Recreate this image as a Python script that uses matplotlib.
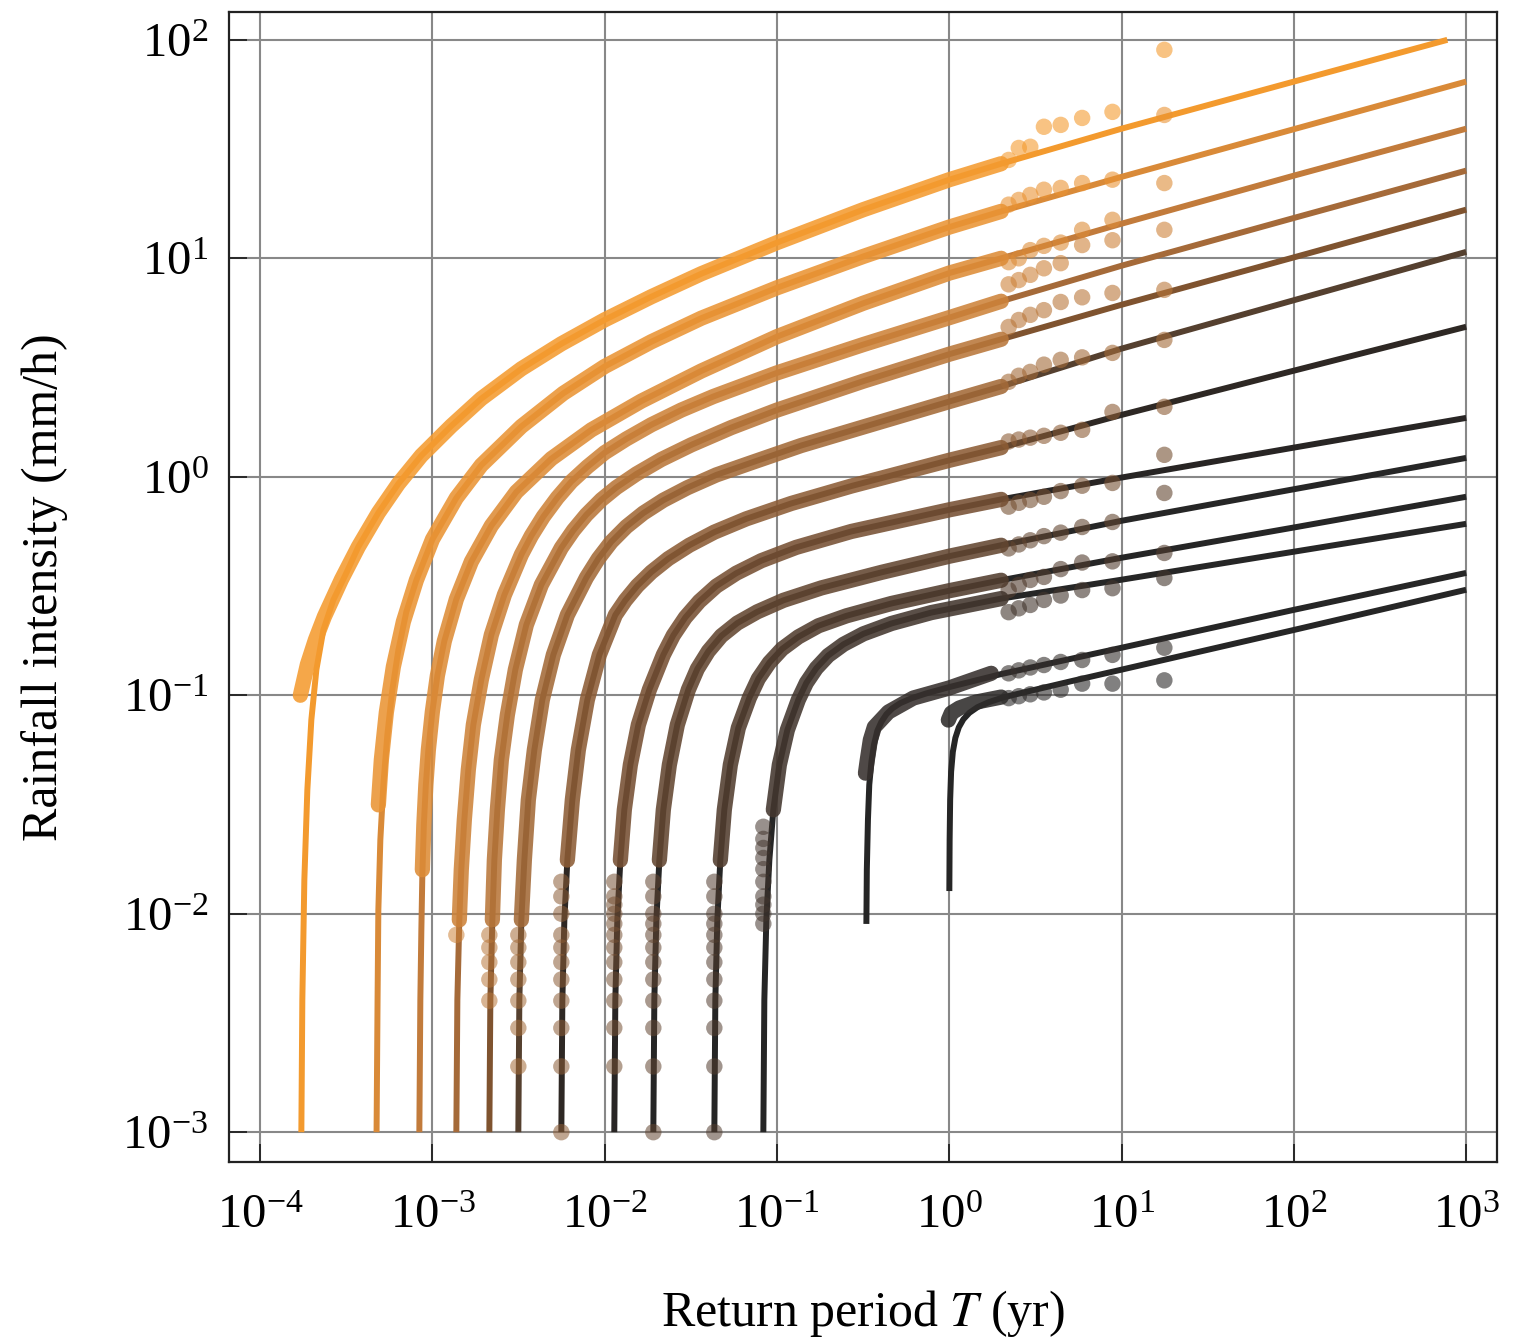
"""Return-period curves of rainfall intensity (log-log), fitted lines with empirical points."""

import matplotlib.pyplot as plt

# ---- data --------------------------------------------------------------------------
# fitted curves, one list per duration (T in yr, I in mm/h)
fit_t = [
    [1.734e-4, 1.757e-4, 1.805e-4, 1.879e-4, 1.982e-4, 2.120e-4, 2.327e-4, 2.659e-4, 3.165e-4, 3.714e-4,
     4.853e-4, 6.341e-4, 8.622e-4, 1.287e-3, 1.922e-3, 3.281e-3, 5.598e-3, 1.0e-2, 1.864e-2, 3.636e-2,
     0.1, 0.317, 1.0, 2.0, 10.0, 100.0, 777.0],
    [4.738e-4, 4.802e-4, 4.853e-4, 4.984e-4, 5.188e-4, 5.473e-4, 5.851e-4, 6.341e-4, 7.055e-4, 8.063e-4,
     1.0e-3, 1.376e-3, 1.922e-3, 3.281e-3, 5.750e-3, 0.01, 1.864e-2, 3.636e-2, 0.1, 0.317, 1.0, 2.0,
     10.0, 100.0, 1000.0],
    [8.393e-4, 8.506e-4, 8.622e-4, 8.737e-4, 8.914e-4, 9.155e-4, 9.467e-4, 9.986e-4, 1.068e-3, 1.172e-3,
     1.376e-3, 1.682e-3, 2.197e-3, 3.068e-3, 4.898e-3, 8.363e-3, 1.631e-2, 3.636e-2, 0.1, 0.317, 1.0,
     2.0, 10.0, 100.0, 1000.0],
    [1.376e-3, 1.395e-3, 1.432e-3, 1.470e-3, 1.531e-3, 1.615e-3, 1.727e-3, 1.922e-3, 2.197e-3, 2.615e-3,
     3.281e-3, 3.750e-3, 4.400e-3, 5.307e-3, 6.399e-3, 7.925e-3, 0.01, 1.335e-2, 1.864e-2, 2.783e-2,
     4.269e-2, 0.1, 0.317, 1.0, 2.0, 10.0, 100.0, 1000.0],
    [2.139e-3, 2.168e-3, 2.227e-3, 2.287e-3, 2.381e-3, 2.511e-3, 2.721e-3, 3.028e-3, 3.507e-3, 4.285e-3,
     5.598e-3, 6.573e-3, 7.820e-3, 9.556e-3, 1.168e-2, 1.526e-2, 2.130e-2, 3.181e-2, 5.429e-2, 0.1,
     0.317, 1.0, 2.0, 10.0, 100.0, 1000.0],
    [3.151e-3, 3.194e-3, 3.281e-3, 3.415e-3, 3.602e-3, 3.903e-3, 4.342e-3, 5.030e-3, 6.067e-3, 7.820e-3,
     9.181e-3, 1.092e-2, 1.335e-2, 1.675e-2, 2.188e-2, 3.016e-2, 4.444e-2, 7.092e-2, 0.138, 0.317, 1.0,
     2.0, 10.0, 100.0, 1000.0],
    [5.598e-3, 5.675e-3, 5.829e-3, 6.067e-3, 6.485e-3, 7.026e-3, 7.925e-3, 9.305e-3, 1.152e-2, 1.317e-2,
     1.546e-2, 1.864e-2, 2.339e-2, 3.097e-2, 4.326e-2, 6.634e-2, 0.121, 0.270, 1.0, 2.0, 10.0, 100.0,
     1000.0],
    [1.136e-2, 1.152e-2, 1.183e-2, 1.232e-2, 1.299e-2, 1.408e-2, 1.567e-2, 1.815e-2, 2.188e-2, 2.500e-2,
     2.936e-2, 3.540e-2, 4.444e-2, 5.804e-2, 8.108e-2, 0.129, 0.270, 1.0, 2.0, 10.0, 100.0, 1000.0],
    [1.914e-2, 1.940e-2, 1.993e-2, 2.075e-2, 2.188e-2, 2.371e-2, 2.638e-2, 3.056e-2, 3.447e-2, 3.993e-2,
     4.750e-2, 5.882e-2, 7.685e-2, 0.109, 0.181, 0.403, 1.0, 2.0, 10.0, 100.0, 1000.0],
    [4.326e-2, 4.384e-2, 4.502e-2, 4.686e-2, 4.943e-2, 5.357e-2, 5.961e-2, 6.906e-2, 7.787e-2, 9.023e-2,
     0.107, 0.133, 0.174, 0.253, 0.461, 1.0, 2.0, 10.0, 100.0, 1000.0],
    [8.327e-2, 8.439e-2, 8.667e-2, 9.023e-2, 9.517e-2, 0.1031, 0.1148, 0.1329, 0.148, 0.169, 0.198,
     0.243, 0.317, 0.461, 0.786, 2.0, 10.0, 100.0, 1000.0],
    [0.330, 0.332, 0.337, 0.343, 0.353, 0.365, 0.382, 0.403, 0.431, 0.467, 0.519, 0.602, 0.736, 1.0,
     2.0, 10.0, 100.0, 1000.0],
    [1.0, 1.004, 1.011, 1.024, 1.048, 1.084, 1.135, 1.206, 1.307, 1.454, 1.684, 2.058, 2.991, 5.107,
     10.0, 100.0, 1000.0],
]
fit_i = [
    [0.001, 0.00403, 0.0143, 0.0369, 0.0772, 0.131, 0.199, 0.273, 0.363, 0.478, 0.684, 0.929, 1.25,
     1.71, 2.28, 3.12, 4.06, 5.23, 6.67, 8.50, 11.8, 16.7, 22.9, 27.1, 39.2, 64.4, 100.0],
    [0.001, 0.00403, 0.0104, 0.0218, 0.0389, 0.0659, 0.106, 0.161, 0.241, 0.336, 0.517, 0.800, 1.13,
     1.70, 2.41, 3.20, 4.15, 5.32, 7.33, 10.2, 13.9, 16.4, 23.6, 39.0, 64.4],
    [0.001, 0.00403, 0.00843, 0.0151, 0.0255, 0.0389, 0.0562, 0.0840, 0.123, 0.177, 0.275, 0.409,
     0.597, 0.852, 1.21, 1.64, 2.22, 3.05, 4.38, 6.23, 8.56, 10.0, 14.4, 23.9, 39.2],
    [0.001, 0.00403, 0.00937, 0.0159, 0.0269, 0.0456, 0.0732, 0.118, 0.189, 0.288, 0.440, 0.537,
     0.657, 0.802, 0.951, 1.11, 1.29, 1.49, 1.73, 2.02, 2.33, 2.99, 4.03, 5.35, 6.36, 9.25, 15.3, 25.2],
    [0.001, 0.00403, 0.00937, 0.0176, 0.0299, 0.0506, 0.0813, 0.131, 0.210, 0.320, 0.473, 0.568,
     0.670, 0.785, 0.893, 1.03, 1.20, 1.40, 1.68, 2.02, 2.74, 3.64, 4.26, 6.13, 10.1, 16.7],
    [0.001, 0.00403, 0.00937, 0.0176, 0.0332, 0.0562, 0.0953, 0.153, 0.233, 0.345, 0.422, 0.504,
     0.591, 0.682, 0.781, 0.891, 1.02, 1.16, 1.39, 1.69, 2.21, 2.59, 3.86, 6.43, 10.7],
    [0.001, 0.00403, 0.00937, 0.0176, 0.0332, 0.0562, 0.0953, 0.153, 0.233, 0.272, 0.317, 0.366,
     0.422, 0.486, 0.558, 0.642, 0.755, 0.907, 1.19, 1.36, 1.92, 3.06, 4.86],
    [0.001, 0.00403, 0.00937, 0.0176, 0.0299, 0.0480, 0.0732, 0.106, 0.153, 0.188, 0.227, 0.269,
     0.316, 0.362, 0.413, 0.475, 0.562, 0.706, 0.788, 0.992, 1.36, 1.86],
    [0.001, 0.00403, 0.00937, 0.0176, 0.0299, 0.0480, 0.0732, 0.106, 0.132, 0.159, 0.187, 0.214,
     0.241, 0.272, 0.310, 0.365, 0.433, 0.486, 0.629, 0.877, 1.22],
    [0.001, 0.00403, 0.00937, 0.0176, 0.0299, 0.0480, 0.0709, 0.0973, 0.119, 0.141, 0.163, 0.185,
     0.208, 0.231, 0.263, 0.301, 0.336, 0.426, 0.586, 0.810],
    [0.001, 0.00403, 0.00937, 0.0176, 0.0299, 0.0480, 0.0694, 0.0953, 0.114, 0.133, 0.152, 0.171,
     0.191, 0.213, 0.239, 0.277, 0.338, 0.454, 0.609],
    [0.00898, 0.0159, 0.0269, 0.0389, 0.0496, 0.0593, 0.0687, 0.0755, 0.0818, 0.0871, 0.0920, 0.0968,
     0.102, 0.109, 0.125, 0.165, 0.246, 0.363],
    [0.0127, 0.0218, 0.0332, 0.0446, 0.0551, 0.0638, 0.0713, 0.0776, 0.0831, 0.0881, 0.0928, 0.0978,
     0.105, 0.116, 0.131, 0.199, 0.304],
]

# dense part of the empirical points
band_t = [
    [1.711e-4, 1.879e-4, 2.091e-4, 2.359e-4, 2.960e-4, 3.714e-4, 4.853e-4, 6.341e-4, 8.622e-4, 1.287e-3,
     1.922e-3, 3.281e-3, 5.598e-3, 1.0e-2, 1.864e-2, 3.636e-2, 0.1, 0.317, 1.0, 2.0],
    [4.853e-4, 5.051e-4, 5.400e-4, 5.930e-4, 6.778e-4, 8.063e-4, 1.0e-3, 1.376e-3, 1.922e-3, 3.281e-3,
     5.750e-3, 0.01, 1.864e-2, 3.636e-2, 0.1, 0.317, 1.0, 2.0],
    [8.737e-4, 8.914e-4, 9.155e-4, 9.467e-4, 9.986e-4, 1.068e-3, 1.172e-3, 1.376e-3, 1.682e-3, 2.197e-3,
     3.068e-3, 4.898e-3, 8.363e-3, 1.631e-2, 3.636e-2, 0.1, 0.317, 1.0, 2.0],
    [1.432e-3, 1.470e-3, 1.531e-3, 1.615e-3, 1.727e-3, 1.922e-3, 2.197e-3, 2.615e-3, 3.281e-3, 3.750e-3,
     4.400e-3, 5.307e-3, 6.399e-3, 7.925e-3, 0.01, 1.335e-2, 1.864e-2, 2.783e-2, 4.269e-2, 0.1, 0.317,
     1.0, 2.0],
    [2.227e-3, 2.287e-3, 2.381e-3, 2.511e-3, 2.721e-3, 3.028e-3, 3.507e-3, 4.285e-3, 5.598e-3, 6.573e-3,
     7.820e-3, 9.556e-3, 1.168e-2, 1.526e-2, 2.130e-2, 3.181e-2, 5.429e-2, 0.1, 0.317, 1.0, 2.0],
    [3.281e-3, 3.415e-3, 3.602e-3, 3.903e-3, 4.342e-3, 5.030e-3, 6.067e-3, 7.820e-3, 9.181e-3, 1.092e-2,
     1.335e-2, 1.675e-2, 2.188e-2, 3.016e-2, 4.444e-2, 7.092e-2, 0.138, 0.317, 1.0, 2.0],
    [6.067e-3, 6.485e-3, 7.026e-3, 7.925e-3, 9.305e-3, 1.152e-2, 1.317e-2, 1.546e-2, 1.864e-2, 2.339e-2,
     3.097e-2, 4.326e-2, 6.634e-2, 0.121, 0.270, 1.0, 2.0],
    [1.232e-2, 1.299e-2, 1.408e-2, 1.567e-2, 1.815e-2, 2.188e-2, 2.500e-2, 2.936e-2, 3.540e-2, 4.444e-2,
     5.804e-2, 8.108e-2, 0.129, 0.270, 1.0, 2.0],
    [2.075e-2, 2.188e-2, 2.371e-2, 2.638e-2, 3.056e-2, 3.447e-2, 3.993e-2, 4.750e-2, 5.882e-2, 7.685e-2,
     0.109, 0.181, 0.403, 1.0, 2.0],
    [4.686e-2, 4.943e-2, 5.357e-2, 5.961e-2, 6.906e-2, 7.787e-2, 9.023e-2, 0.107, 0.133, 0.174, 0.253,
     0.461, 1.0, 2.0],
    [9.517e-2, 0.1031, 0.1148, 0.1329, 0.148, 0.169, 0.198, 0.243, 0.317, 0.461, 0.786, 2.0],
    [0.326, 0.334, 0.348, 0.367, 0.443, 0.618, 1.0, 1.75],
    [0.987, 1.027, 1.143, 1.434, 2.0],
]
band_i = [
    [0.100, 0.138, 0.179, 0.229, 0.338, 0.478, 0.684, 0.929, 1.25, 1.71, 2.28, 3.12, 4.06, 5.23, 6.67,
     8.50, 11.8, 16.7, 22.9, 27.1],
    [0.0315, 0.0506, 0.0835, 0.135, 0.217, 0.336, 0.517, 0.800, 1.13, 1.70, 2.41, 3.20, 4.15, 5.32,
     7.33, 10.2, 13.9, 16.4],
    [0.0159, 0.0255, 0.0389, 0.0562, 0.0840, 0.123, 0.177, 0.275, 0.409, 0.597, 0.852, 1.21, 1.64,
     2.22, 3.05, 4.38, 6.23, 8.56, 10.0],
    [0.00937, 0.0159, 0.0269, 0.0456, 0.0732, 0.118, 0.189, 0.288, 0.440, 0.537, 0.657, 0.802, 0.951,
     1.11, 1.29, 1.49, 1.73, 2.02, 2.33, 2.99, 4.03, 5.35, 6.36],
    [0.00937, 0.0176, 0.0299, 0.0506, 0.0813, 0.131, 0.210, 0.320, 0.473, 0.568, 0.670, 0.785, 0.893,
     1.03, 1.20, 1.40, 1.68, 2.02, 2.74, 3.64, 4.26],
    [0.00937, 0.0176, 0.0332, 0.0562, 0.0953, 0.153, 0.233, 0.345, 0.422, 0.504, 0.591, 0.682, 0.781,
     0.891, 1.02, 1.16, 1.39, 1.69, 2.21, 2.59],
    [0.0176, 0.0332, 0.0562, 0.0953, 0.153, 0.233, 0.272, 0.317, 0.366, 0.422, 0.486, 0.558, 0.642,
     0.755, 0.907, 1.19, 1.36],
    [0.0176, 0.0299, 0.0480, 0.0732, 0.106, 0.153, 0.188, 0.227, 0.269, 0.316, 0.362, 0.413, 0.475,
     0.562, 0.706, 0.788],
    [0.0176, 0.0299, 0.0480, 0.0732, 0.106, 0.132, 0.159, 0.187, 0.214, 0.241, 0.272, 0.310, 0.365,
     0.433, 0.486],
    [0.0176, 0.0299, 0.0480, 0.0709, 0.0973, 0.119, 0.141, 0.163, 0.185, 0.208, 0.231, 0.263, 0.301,
     0.336],
    [0.0299, 0.0480, 0.0694, 0.0953, 0.114, 0.133, 0.152, 0.171, 0.191, 0.213, 0.239, 0.277],
    [0.044, 0.0505, 0.0624, 0.0715, 0.0838, 0.0971, 0.108, 0.126],
    [0.077, 0.0829, 0.0874, 0.0931, 0.0981],
]

# isolated low-intensity points sitting on the vertical part of each curve
low_t = [1.73e-4, 4.74e-4, 8.39e-4, 1.376e-3, 2.139e-3, 3.151e-3, 5.598e-3, 1.136e-2, 1.914e-2,
         4.326e-2, 8.327e-2, 0.33, 1.0]
low_i = [
    [], [], [],
    [0.008],
    [0.004, 0.005, 0.006, 0.007, 0.008],
    [0.002, 0.003, 0.004, 0.005, 0.006, 0.007, 0.008],
    [0.001, 0.002, 0.003, 0.004, 0.005, 0.006, 0.007, 0.008, 0.01, 0.012, 0.014],
    [0.002, 0.003, 0.004, 0.005, 0.006, 0.007, 0.008, 0.009, 0.01, 0.011, 0.012, 0.014],
    [0.001, 0.002, 0.003, 0.004, 0.005, 0.006, 0.007, 0.008, 0.009, 0.01, 0.012, 0.014],
    [0.001, 0.002, 0.003, 0.004, 0.005, 0.006, 0.007, 0.008, 0.009, 0.01, 0.012, 0.014],
    [0.009, 0.01, 0.011, 0.012, 0.014, 0.016, 0.018, 0.02, 0.022, 0.025],
    [], [],
]

# largest observations (sparse tail), common plotting positions
tail_t = [17.7, 8.85, 5.9, 4.43, 3.54, 2.95, 2.53, 2.21]
tail_i = [
    [90.0, 46.8, 43.9, 40.8, 40.0, 32.4, 32.0, 28.2],
    [45.3, 22.9, 22.1, 21.0, 20.6, 19.5, 18.5, 17.6],
    [22.1, 15.0, 13.5, 11.8, 11.4, 10.9, 10.0, 9.6],
    [13.5, 12.1, 11.5, 9.5, 9.0, 8.4, 7.95, 7.6],
    [7.17, 6.94, 6.63, 6.31, 5.79, 5.51, 5.22, 4.85],
    [4.23, 3.69, 3.52, 3.43, 3.26, 3.02, 2.90, 2.72],
    [2.09, 1.98, 1.64, 1.59, 1.54, 1.51, 1.48, 1.45],
    [1.26, 0.937, 0.91, 0.86, 0.81, 0.783, 0.76, 0.73],
    [0.843, 0.621, 0.589, 0.555, 0.535, 0.512, 0.49, 0.47],
    [0.448, 0.41, 0.405, 0.378, 0.348, 0.337, 0.32, 0.303],
    [0.344, 0.309, 0.303, 0.286, 0.273, 0.259, 0.25, 0.24],
    [0.165, 0.153, 0.145, 0.142, 0.1375, 0.134, 0.130, 0.126],
    [0.117, 0.113, 0.113, 0.106, 0.103, 0.101, 0.099, 0.097],
]

line_colors = ['#f39a2e', '#d98a38', '#c27b3b', '#a56a39', '#7f532f', '#55402f', '#2e2824',
               '#282524', '#262626', '#262626', '#262626', '#262626', '#262626']
point_colors = ['#f49b30', '#ea9434', '#dd8c37', '#cd833a', '#b9773a', '#a36a38', '#8c5c35',
                '#765033', '#634631', '#523d2f', '#43362e', '#36302d', '#2e2c2b']

x_ticks = [1e-4, 1e-3, 1e-2, 1e-1, 1e0, 1e1, 1e2, 1e3]
y_ticks = [1e-3, 1e-2, 1e-1, 1e0, 1e1, 1e2]

plt.rcParams['font.family'] = 'serif'
plt.rcParams['font.serif'] = ['Liberation Serif', 'DejaVu Serif']
plt.rcParams['mathtext.fontset'] = 'stix'


def main():
    fig = plt.figure(figsize=(15.18, 13.40), dpi=100)
    ax = fig.add_axes([0.1509, 0.1328, 0.8353, 0.8582])

    for k in range(len(fit_t)):
        ax.plot(fit_t[k], fit_i[k], color=line_colors[k], lw=4.3,
                solid_capstyle='butt', solid_joinstyle='round', zorder=3)
        ax.plot(band_t[k], band_i[k], color=point_colors[k], lw=11, alpha=0.88,
                solid_capstyle='round', solid_joinstyle='round', zorder=4)
        if low_i[k]:
            ax.scatter([low_t[k]] * len(low_i[k]), low_i[k], s=140, color=point_colors[k],
                       alpha=0.55, edgecolors='none', zorder=4)
        ax.scatter(tail_t, tail_i[k], s=140, color=point_colors[k], alpha=0.6,
                   edgecolors='none', zorder=4)

    ax.set_xscale('log')
    ax.set_yscale('log')
    ax.set_xlim(6.6e-5, 1.51e3)
    ax.set_ylim(7.3e-4, 134)
    ax.set_xticks(x_ticks)
    ax.set_yticks(y_ticks)
    ax.minorticks_off()

    ax.set_axisbelow(True)
    ax.grid(True, color='#888888', lw=1.5)
    for side in ax.spines.values():
        side.set_linewidth(1.6)
        side.set_color('#222222')

    ax.tick_params(direction='in', length=13, width=1.3, color='#222222', labelsize=35)
    ax.tick_params(axis='x', pad=23)
    ax.tick_params(axis='y', pad=15)

    ax.set_xlabel('Return period $T$ (yr)', fontsize=36, labelpad=36)
    ax.set_ylabel('Rainfall intensity (mm/h)', fontsize=36, labelpad=39)

    fig.savefig('out.png', dpi=100)
    plt.close(fig)


if __name__ == '__main__':
    main()
